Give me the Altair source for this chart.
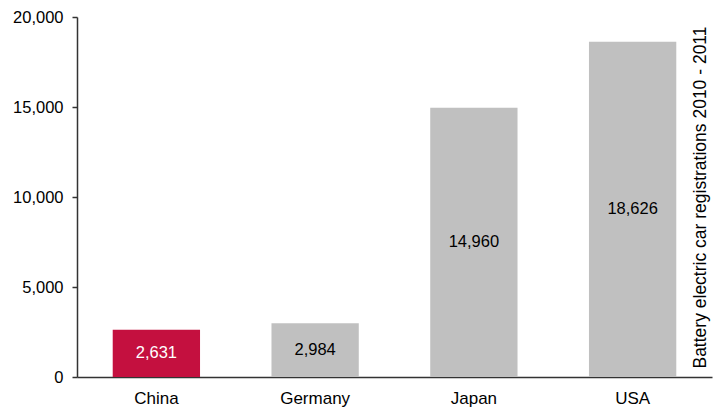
import altair as alt
import pandas as pd

countries = ["China", "Germany", "Japan", "USA"]
registrations = [2631, 2984, 14960, 18626]
bar_colors = ["#C4103F", "#C0C0C0", "#C0C0C0", "#C0C0C0"]
label_colors = ["#FFFFFF", "#000000", "#000000", "#000000"]
y_ticks = [0, 5000, 10000, 15000, 20000]
side_title = "Battery electric car registrations 2010 - 2011"

df = pd.DataFrame({
    "country": countries,
    "value": registrations,
    "bar_color": bar_colors,
    "label_color": label_colors,
})

FONT = "Liberation Sans"

x_enc = alt.X(
    "country:N", sort=countries, title=None,
    scale=alt.Scale(paddingInner=0.45, paddingOuter=0.225),
    axis=alt.Axis(labelAngle=0, ticks=False, labelPadding=13, labelFontSize=17,
                  labelFont=FONT, labelColor="#000000", domainColor="#333333",
                  domainWidth=1.5),
)

y_scale = alt.Scale(domain=[0, 20000], nice=False)

bars = alt.Chart(df).mark_bar().encode(
    x=x_enc,
    y=alt.Y("value:Q", scale=y_scale, title=None,
            axis=alt.Axis(values=y_ticks, format=",d", grid=False, tickSize=5,
                          labelPadding=9, labelFontSize=16.5, labelFont=FONT,
                          labelColor="#000000", domainColor="#333333",
                          tickColor="#333333", domainWidth=1.5, tickWidth=1.5)),
    color=alt.Color("bar_color:N", scale=None, legend=None),
)

labels = alt.Chart(df).transform_calculate(
    half="datum.value / 2"
).mark_text(fontSize=16.5, font=FONT, baseline="middle", align="center").encode(
    x=alt.X("country:N", sort=countries),
    y=alt.Y("half:Q", scale=y_scale,
            axis=alt.Axis(orient="right", title=side_title, labels=False, ticks=False,
                          domain=False, grid=False, titleAngle=270, titleX=-7,
                          titleY=180, titleAlign="center", titleBaseline="alphabetic",
                          titleFont=FONT, titleFontSize=17.5, titleFontWeight="normal",
                          titleColor="#000000")),
    text=alt.Text("value:Q", format=",d"),
    color=alt.Color("label_color:N", scale=None, legend=None),
)

chart = alt.layer(bars, labels).resolve_axis(y="independent").properties(
    width=635, height=360,
    autosize=alt.AutoSizeParams(type="none"),
    padding={"left": 69, "top": 9, "right": 3, "bottom": 31},
    background="#FFFFFF",
).configure_view(stroke=None)

chart.save("out.html", embed_options={"renderer": "svg", "actions": False})
